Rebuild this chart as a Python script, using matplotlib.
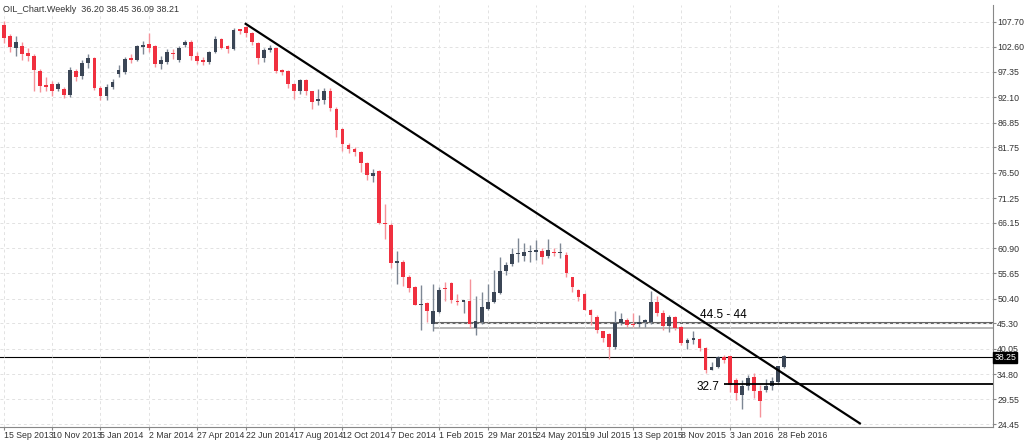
import matplotlib
matplotlib.use("Agg")
import matplotlib.pyplot as plt
import numpy as np

opens = [107.1,104.8,102.3,102.7,101.3,100.7,97.6,94.5,94.8,93.8,93.8,92.6,97.6,96.5,99.2,100.2,94.0,92.4,94.2,96.9,97.4,100.0,99.9,102.5,103.1,102.7,99.0,99.4,101.2,99.8,102.9,103.6,100.6,99.8,99.4,101.4,104.1,102.7,102.0,106.0,106.6,105.4,103.3,100.2,101.9,102.2,97.6,97.6,94.8,93.3,95.6,93.3,91.3,91.5,93.3,89.7,
          85.5,82.2,81.4,80.8,78.5,75.9,76.8,66.1,65.7,57.8,58.0,55.0,52.8,49.1,49.5,45.2,47.7,52.6,53.7,50.0,49.8,49.9,44.3,45.6,48.3,49.7,51.6,56.2,57.6,59.6,59.3,60.1,60.0,60.3,59.2,60.1,59.8,59.5,54.9,52.2,51.4,48.1,46.6,43.7,43.1,40.4,45.4,46.0,45.2,45.1,45.6,45.6,49.7,47.4,44.8,
          46.6,44.6,41.3,41.9,42.0,40.2,35.7,36.3,38.4,38.5,33.6,30.5,32.3,34.2,31.3,31.5,32.3,33.1,36.3]
closes = [104.4,102.5,103.5,101.0,100.7,97.8,94.5,94.3,93.5,94.8,92.6,97.8,96.3,99.2,100.2,94.0,92.4,94.2,95.3,97.8,100.0,99.9,102.7,102.9,102.3,99.0,99.9,101.4,101.0,102.3,103.6,100.6,99.6,99.4,101.4,104.2,102.3,102.0,106.0,105.9,105.4,103.5,100.2,101.9,102.2,97.6,97.4,94.8,93.3,95.6,93.3,91.2,91.8,93.3,89.9,85.3,
          82.4,81.4,80.8,78.5,76.0,76.5,66.1,65.8,57.8,58.2,54.9,52.7,49.1,49.3,47.8,47.9,52.2,52.4,50.2,49.7,50.1,45.2,45.8,48.7,49.7,51.8,56.2,57.4,59.6,59.9,60.1,60.2,60.5,59.0,60.5,59.8,60.0,55.7,52.8,50.8,48.1,47.0,43.9,42.3,40.4,45.4,46.2,45.0,45.0,45.6,45.9,49.7,47.4,44.8,46.6,
          44.3,41.3,41.9,42.2,40.2,35.7,36.3,38.3,37.8,32.6,30.9,32.3,34.0,31.3,29.2,32.3,33.3,36.5,38.5]
highs = [107.8,105.3,104.8,103.5,102.2,101.0,98.0,96.2,95.5,95.3,94.3,98.3,98.0,99.8,101.0,100.4,94.5,94.8,95.8,98.8,100.5,101.0,103.0,103.8,105.5,102.9,100.6,102.0,102.0,102.8,104.0,104.0,101.5,100.5,101.6,104.8,104.3,103.0,106.4,106.3,106.8,105.6,103.6,102.4,103.0,102.4,98.0,97.8,95.0,95.8,95.8,93.5,93.8,94.0,94.0,90.0,
          85.8,82.6,81.8,81.0,78.8,77.3,77.0,70.0,66.0,60.2,58.4,55.3,53.0,53.3,49.7,53.5,52.8,53.8,53.9,51.3,50.0,54.5,51.0,51.8,53.5,56.3,59.0,57.9,61.0,63.0,62.0,61.5,62.5,60.8,62.7,61.0,62.0,60.0,55.0,52.4,51.6,48.3,47.0,43.8,43.4,47.8,47.5,46.5,47.4,47.0,46.3,52.0,51.0,48.1,47.0,
          46.8,44.8,42.2,43.8,42.3,40.4,37.3,38.6,38.7,38.5,34.0,33.5,34.7,35.0,32.6,33.8,34.2,36.5,38.7]
lows = [103.4,101.5,100.6,99.9,99.6,93.5,93.2,93.3,92.3,93.4,92.0,92.2,95.4,95.8,98.2,93.6,91.5,91.5,93.8,96.2,97.0,99.2,99.7,101.0,101.5,98.4,98.0,99.0,100.0,99.5,102.6,99.8,99.0,98.7,99.0,101.3,102.0,101.2,101.8,105.2,104.5,103.0,99.0,99.3,101.5,97.2,96.8,94.0,91.8,92.8,92.5,89.7,90.5,90.8,89.3,83.8,
          81.0,80.5,80.0,76.6,75.0,74.5,65.8,62.8,56.8,53.4,53.0,51.8,49.0,44.0,45.5,43.7,47.4,50.0,49.5,49.0,47.4,44.4,42.8,45.2,48.0,49.5,51.3,55.3,57.2,58.0,58.2,58.0,58.5,57.5,58.8,59.2,58.9,54.8,51.8,50.0,48.0,45.0,43.3,41.5,37.9,40.0,45.0,44.5,44.5,44.6,44.6,45.2,46.8,44.0,43.5,
          44.0,40.8,40.0,41.0,39.6,35.0,35.6,36.0,37.0,31.0,29.5,27.6,31.5,29.8,26.0,31.0,31.5,32.8,36.0]

date_labels = ["15 Sep 2013","10 Nov 2013","5 Jan 2014","2 Mar 2014","27 Apr 2014","22 Jun 2014",
               "17 Aug 2014","12 Oct 2014","7 Dec 2014","1 Feb 2015","29 Mar 2015","24 May 2015",
               "19 Jul 2015","13 Sep 2015","8 Nov 2015","3 Jan 2016","28 Feb 2016"]
price_ticks = [107.70,102.60,97.35,92.10,86.85,81.75,76.50,71.25,66.15,60.90,55.65,50.40,45.30,40.05,34.80,29.55,24.45]

RED = "#f0303f"; DARK = "#3b4656"
FONT = "Liberation Sans Narrow"
import matplotlib.font_manager as fm
names = {f.name for f in fm.fontManager.ttflist}
if FONT not in names:
    FONT = "Liberation Sans"
plt.rcParams['font.family'] = [FONT, 'DejaVu Sans']

fig = plt.figure(figsize=(10.24, 4.41), dpi=100)
ax = fig.add_axes([0.0, 14/441, 993/1024, 1 - 19/441])
n = len(closes)
x = np.arange(n)
for i in x:
    up = closes[i] >= opens[i]
    col = DARK if up else RED
    wc = "#7d8794" if up else "#f5939a"
    ax.vlines(i, lows[i], highs[i], color=wc, lw=1, zorder=2)
    b0, b1 = sorted([opens[i], closes[i]])
    ax.bar(i, max(b1 - b0, 0.25), bottom=b0, width=0.62, color=col, lw=0, zorder=3)

ax.set_xlim(-0.6, 163.5)
ax.set_ylim(23.85, 111.2)
ax.yaxis.tick_right()
ax.set_yticks(price_ticks)
ax.set_yticklabels([f"{v:.2f}" for v in price_ticks], fontsize=6.3, color="#333", family="Liberation Sans")
tick_idx = list(range(0, 8 * len(date_labels), 8))
ax.set_xticks(tick_idx)
ax.set_xticklabels(date_labels, fontsize=6.3, ha="left", color="#333")
ax.tick_params(axis="both", length=2, color="#888", pad=1)
ax.grid(True, ls=(0, (3, 3)), color="#e2e2e2", lw=0.7)
for s in ["top", "left"]:
    ax.spines[s].set_visible(False)
ax.spines["right"].set_color("#888"); ax.spines["bottom"].set_color("#888")

ax.plot([40, 141.5], [107.3, 24.6], color="black", lw=1.6, zorder=4)
ax.hlines(45.3, 71, 163.5, color="#666", lw=1.5, zorder=1)
ax.hlines(44.3, 71, 163.5, color="#aaa", lw=1.2, zorder=1)
ax.axhline(38.25, color="black", lw=0.8, zorder=1)
ax.hlines(32.7, 119, 163.5, color="black", lw=1.3, zorder=4)
ax.text(115, 46.4, "44.5 - 44", fontsize=8.5, family="Liberation Sans")
ax.text(114.5, 31.6, "32.7", fontsize=8.5, family="Liberation Sans")
ax.text(163.7, 38.25, "38.25", fontsize=6.3, color="white", va="center", ha="left", family="Liberation Sans",
        bbox=dict(boxstyle="square,pad=0.15", fc="black", ec="black"), clip_on=False)
fig.text(3/1024, 1 - 12/441, "OIL_Chart.Weekly  36.20 38.45 36.09 38.21", fontsize=6.5, color="#333")
fig.savefig("out.png", dpi=100)
